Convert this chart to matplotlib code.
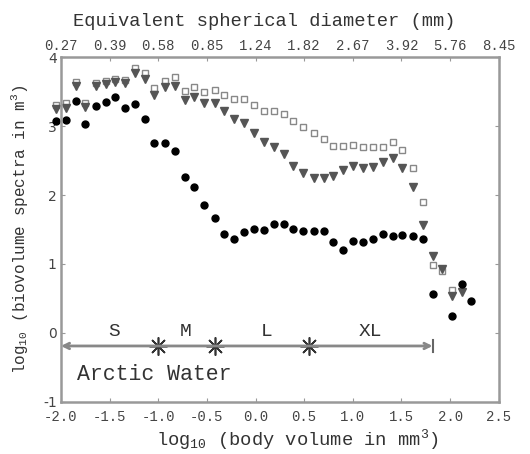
import matplotlib
matplotlib.use("Agg")
import matplotlib.pyplot as plt
import numpy as np

plt.rcParams['font.family'] = ['Liberation Mono', 'DejaVu Sans']
plt.rcParams['mathtext.fontset'] = 'custom'
plt.rcParams['mathtext.rm'] = 'Liberation Mono'
plt.rcParams['mathtext.it'] = 'Liberation Mono'

# bin centres, log10 body volume (mm3)
logv = [-2.05, -1.95, -1.85, -1.75, -1.64, -1.54, -1.44, -1.34, -1.24, -1.14,
        -1.04, -0.93, -0.83, -0.73, -0.63, -0.53, -0.42, -0.32, -0.22, -0.12,
        -0.02, 0.09, 0.19, 0.29, 0.39, 0.49, 0.60, 0.70, 0.80, 0.90,
        1.00, 1.10, 1.21, 1.31, 1.41, 1.51, 1.62, 1.72, 1.82, 1.92,
        2.02, 2.12, 2.22]

nan = np.nan
dots = [3.08, 3.09, 3.37, 3.03, 3.29, 3.35, 3.42, 3.27, 3.32, 3.11,
        2.76, 2.76, 2.64, 2.26, 2.12, 1.85, 1.67, 1.44, 1.36, 1.46,
        1.50, 1.49, 1.58, 1.58, 1.51, 1.48, 1.48, 1.48, 1.32, 1.20,
        1.34, 1.32, 1.36, 1.44, 1.40, 1.42, 1.41, 1.36, 0.56, nan,
        0.25, 0.71, 0.46]
squares = [3.30, 3.33, 3.64, 3.34, 3.63, 3.66, 3.69, 3.67, 3.84, 3.77,
           3.56, 3.66, 3.72, 3.51, 3.57, 3.50, 3.53, 3.45, 3.39, 3.39,
           3.30, 3.22, 3.22, 3.17, 3.08, 2.99, 2.90, 2.81, 2.71, 2.71,
           2.72, 2.69, 2.69, 2.69, 2.77, 2.65, 2.39, 1.90, 0.99, 0.90,
           0.62, nan, nan]
triangles = [3.25, 3.27, 3.58, 3.28, 3.58, 3.61, 3.64, 3.62, 3.77, 3.69,
             3.45, 3.57, 3.58, 3.38, 3.42, 3.33, 3.33, 3.22, 3.11, 3.04,
             2.90, 2.77, 2.70, 2.59, 2.42, 2.32, 2.24, 2.24, 2.28, 2.36,
             2.42, 2.39, 2.40, 2.48, 2.54, 2.39, 2.12, 1.57, 1.11, 0.93,
             0.53, 0.59, nan]

xticks = [-2.0, -1.5, -1.0, -0.5, 0.0, 0.5, 1.0, 1.5, 2.0, 2.5]
top_labels = ['0.27', '0.39', '0.58', '0.85', '1.24', '1.82', '2.67', '3.92', '5.76', '8.45']

size_names = ['S', 'M', 'L', 'XL']
size_label_x = [-1.45, -0.72, 0.11, 1.18]
size_bounds = [-1.0, -0.42, 0.55]
arrow_start, arrow_end = -2.0, 1.82

grey = '#444444'
spine = '#999999'

fig = plt.figure(figsize=(5.3, 4.54), dpi=100)
ax = fig.add_axes([0.115, 0.115, 0.826, 0.759])

ax.plot(logv, squares, ls='none', marker='s', ms=5, mfc='white', mec='#888888', mew=1.0, clip_on=False)
ax.plot(logv, triangles, ls='none', marker='v', ms=5.5, color='#555555', clip_on=False)
ax.plot(logv, dots, ls='none', marker='o', ms=5, color='black', clip_on=False)

# size class arrow
ay = -0.19
ax.annotate('', xy=(arrow_end, ay), xytext=(arrow_start, ay),
            arrowprops=dict(arrowstyle='<->', color='#888888', lw=2, shrinkA=0, shrinkB=0))
ax.plot([arrow_end, arrow_end], [ay - 0.09, ay + 0.09], color='#666666', lw=1.5)
ax.plot(size_bounds, [ay] * len(size_bounds), ls='none', marker=(8, 2, 0), ms=13, mew=1.2, color='#333333')
for name, xl in zip(size_names, size_label_x):
    ax.text(xl, 0.02, name, ha='center', va='center', fontsize=14, color='#333333')
ax.text(-1.84, -0.61, 'Arctic Water', ha='left', va='center', fontsize=15.5, color='#333333')

ax.set_xlim(-2.0, 2.5)
ax.set_ylim(-1, 4)
ax.set_xticks(xticks)
ax.set_xticklabels([f'{t:.1f}' for t in xticks], fontsize=10, color=grey)
ax.set_yticks([-1, 0, 1, 2, 3, 4])
ax.set_yticklabels(['-1', '0', '1', '2', '3', '4'], fontsize=10, color=grey, family='DejaVu Sans')
ax.tick_params(direction='in', length=3, color=spine, right=True, pad=3)
ax.tick_params(axis='x', pad=6)
for s in ax.spines.values():
    s.set_color(spine)
    s.set_linewidth(1.8)

ax.set_xlabel('log$_{10}$ (body volume in mm$^3$)', fontsize=13.5, color='#333333')
ax.xaxis.set_label_coords(0.54, -0.075)
ax.set_ylabel('log$_{10}$ (biovolume spectra in m$^3$)', fontsize=11.5, color='#333333')
ax.yaxis.set_label_coords(-0.07, 0.5)

top = ax.twiny()
top.set_xlim(ax.get_xlim())
top.set_xticks(xticks)
top.set_xticklabels(top_labels, fontsize=10, color=grey)
top.tick_params(direction='in', length=3, color=spine, pad=3)
top.set_xlabel('Equivalent spherical diameter (mm)', fontsize=13.5, color='#333333')
top.xaxis.set_label_coords(0.465, 1.09)
for s in top.spines.values():
    s.set_visible(False)

fig.savefig('out.png', dpi=100)
